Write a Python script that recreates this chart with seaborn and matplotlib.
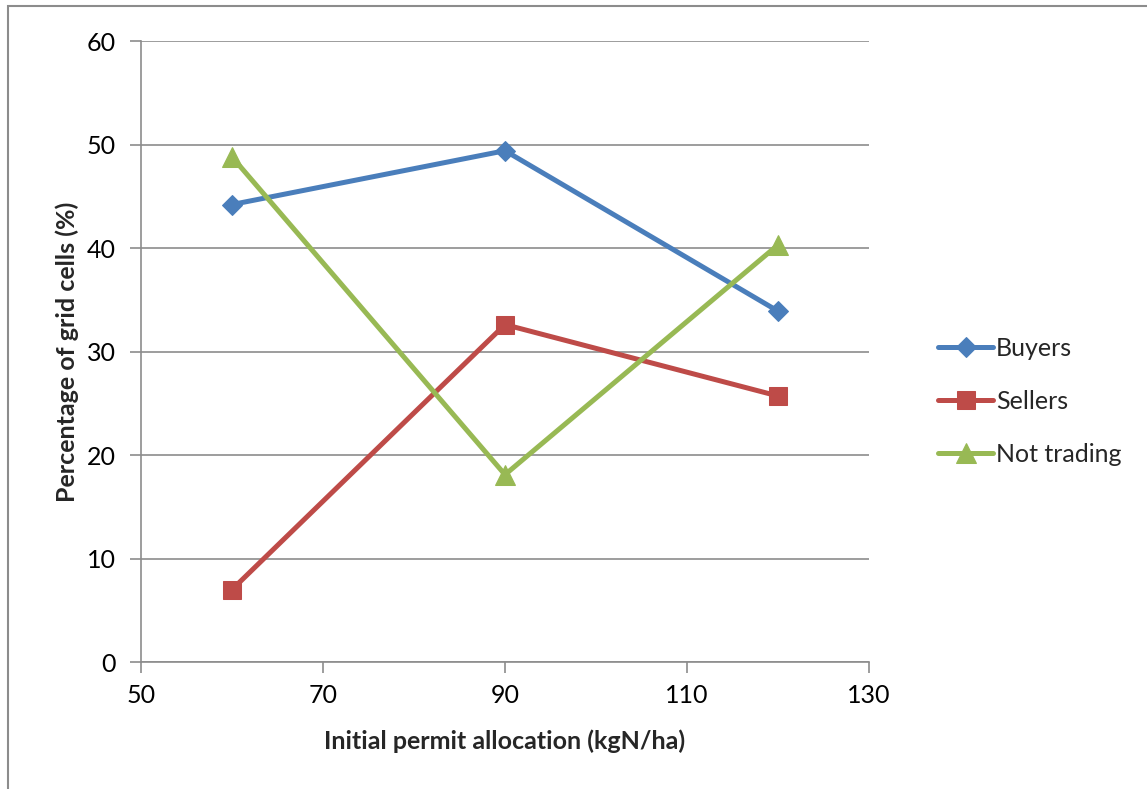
import matplotlib
matplotlib.use("Agg")
import matplotlib.pyplot as plt
import seaborn as sns
import pandas as pd
from matplotlib.patches import Rectangle

allocation = [60, 90, 120]
buyers = [44.2, 49.4, 33.9]
sellers = [7.0, 32.6, 25.7]
not_trading = [48.8, 18.1, 40.3]
series_names = ["Buyers", "Sellers", "Not trading"]

df = pd.concat([
    pd.DataFrame({"x": allocation, "y": vals, "series": name})
    for name, vals in zip(series_names, [buyers, sellers, not_trading])
], ignore_index=True)

sns.set_theme(style="white")
plt.rcParams['font.family'] = ['Lato', 'DejaVu Sans']

fig = plt.figure(figsize=(11.47, 7.89), dpi=100)
ax = fig.add_axes([141/1147, 1-662/789, (869-141)/1147, (662-41)/789])

palette = {"Buyers": "#4A7EBB", "Sellers": "#BE4B48", "Not trading": "#98B954"}
markers = {"Buyers": "D", "Sellers": "s", "Not trading": "^"}
sizes = {"Buyers": 10, "Sellers": 13, "Not trading": 14}

for name in series_names:
    sub = df[df.series == name]
    sns.lineplot(data=sub, x="x", y="y", ax=ax, color=palette[name],
                 marker=markers[name], markersize=sizes[name], linewidth=3.6,
                 markeredgecolor=palette[name], label=name, zorder=3)

ax.set_xlim(50, 130)
ax.set_ylim(0, 60)
ax.set_xticks([50, 70, 90, 110, 130])
ax.set_yticks(range(0, 61, 10))
ax.yaxis.grid(True, color="#8c8c8c", linewidth=1.2)
ax.xaxis.grid(False)
for s in ["top", "right"]:
    ax.spines[s].set_visible(False)
for s in ["left", "bottom"]:
    ax.spines[s].set_color("#8c8c8c")
    ax.spines[s].set_linewidth(1.2)
ax.tick_params(axis="both", which="both", direction="out", length=8, width=1.2,
               color="#8c8c8c", labelsize=18, labelcolor="black", left=True, bottom=True)
ax.tick_params(axis="y", pad=10)
ax.tick_params(axis="x", pad=8)

ax.set_xlabel("Initial permit allocation (kgN/ha)", fontsize=18, fontweight="bold", labelpad=16)
ax.set_ylabel("Percentage of grid cells (%)", fontsize=18, fontweight="bold", labelpad=6)

leg = ax.legend(loc="center left", bbox_to_anchor=(1.064, 0.42), frameon=False,
                fontsize=18, handlelength=2.2, handletextpad=0.12, labelspacing=1.2)

fig.patches.append(Rectangle((8/1147, -0.1), 1.2, 1 - 6/789 + 0.1, transform=fig.transFigure,
                             fill=False, edgecolor="#8c8c8c", linewidth=1.5))

fig.savefig("out.png", dpi=100)
